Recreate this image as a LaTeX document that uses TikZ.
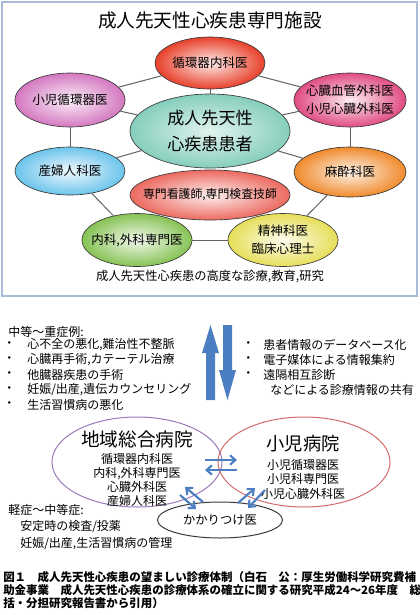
\documentclass[tikz,border=0pt]{standalone}
\usepackage{fontspec}
\setmainfont{Noto Sans CJK JP}
\usepackage{tikz}
\usetikzlibrary{arrows.meta,shapes.geometric}
\definecolor{ink}{HTML}{3A3A3A}
\definecolor{cardio}{HTML}{E8402A}
\definecolor{pedcardio}{HTML}{D478C0}
\definecolor{surgery}{HTML}{E04C82}
\definecolor{patient}{HTML}{86CEBC}
\definecolor{obgyn}{HTML}{6CC4EC}
\definecolor{anesth}{HTML}{F08A2C}
\definecolor{nurse}{HTML}{EC6A60}
\definecolor{internal}{HTML}{86C254}
\definecolor{psych}{HTML}{E6DE58}
\definecolor{frame}{HTML}{A9BBD9}
\definecolor{flowblue}{HTML}{4C7EC2}
\definecolor{genring}{HTML}{9A7AB8}
\definecolor{kidring}{HTML}{D46A6A}
\newlength\unitpx
\setlength\unitpx{0.75pt}
\tikzset{oval/.style={ellipse,draw=ink,line width=.5pt,shade,shading=radial,inner color=#1!10,outer color=#1,inner xsep=-30pt,inner ysep=0pt,align=center,font=\fontsize{9.4}{13.5}\selectfont},
  linkline/.style={draw=ink!80,line width=.75pt},
  ring/.style={ellipse,line width=.75pt,inner sep=0pt},
  bigarrow/.style={fill=flowblue},
  swaparrow/.style={draw=flowblue,line width=1.6pt,-{Straight Barb[length=4pt,width=7pt]}},
  listtext/.style={anchor=west,inner sep=0pt,font=\fontsize{9}{11}\selectfont},
  captext/.style={anchor=west,inner sep=0pt,font=\fontsize{8.6}{10}\selectfont\bfseries}}

\begin{document}
\begin{tikzpicture}[x=\unitpx,y=-\unitpx]
\useasboundingbox (0,0) rectangle (420,615);
\draw[frame,line width=1.2pt] (2,2) rectangle (417,296);
\node[font=\fontsize{14}{16}\selectfont] (facility) at (210,20) {成人先天性心疾患専門施設};
% specialists round the patient
\node[oval=cardio,minimum width=110\unitpx,minimum height=52\unitpx] (cardio) at (210,63) {循環器内科医};
\node[oval=pedcardio,minimum width=110\unitpx,minimum height=54\unitpx] (pedcardio) at (70,100) {小児循環器医};
\node[oval=surgery,minimum width=112\unitpx,minimum height=54\unitpx] (surgery) at (350,100) {心臓血管外科医\\小児心臓外科医};
\node[oval=patient,inner color=patient!25,minimum width=160\unitpx,minimum height=74\unitpx,font=\fontsize{12.8}{20}\selectfont] (patient) at (210,131) {成人先天性\\心疾患患者};
\node[oval=obgyn,minimum width=110\unitpx,minimum height=48\unitpx] (obgyn) at (70,171) {産婦人科医};
\node[oval=anesth,minimum width=112\unitpx,minimum height=50\unitpx] (anesth) at (350,172) {麻酔科医};
\node[oval=nurse,minimum width=160\unitpx,minimum height=50\unitpx,font=\fontsize{8.9}{11}\selectfont] (nurse) at (210,195) {専門看護師,専門検査技師};
\node[oval=internal,minimum width=110\unitpx,minimum height=53\unitpx] (internal) at (137,240) {内科,外科専門医};
\node[oval=psych,minimum width=110\unitpx,minimum height=53\unitpx] (psych) at (283,240) {精神科医\\臨床心理士};
\foreach \a/\b in {cardio/pedcardio,cardio/surgery,cardio/patient,pedcardio/patient,surgery/patient,pedcardio/obgyn,surgery/anesth,obgyn/patient,anesth/patient,obgyn/internal,anesth/psych,internal/psych}
  \draw[linkline] (\a) -- (\b);
\node[font=\fontsize{9.2}{11}\selectfont] (mission) at (210,277) {成人先天性心疾患の高度な診療,教育,研究};
% lists and exchange arrows
\node[listtext] (severe) at (8,332) {中等〜重症例:};
\foreach \txt [count=\i] in {{心不全の悪化,難治性不整脈},{心臓再手術,カテーテル治療},{他臓器疾患の手術},{妊娠/出産,遺伝カウンセリング},{生活習慣病の悪化}} {
  \node[listtext] at (3,330+15*\i) {・};
  \node[listtext] at (27,330+15*\i) {\txt};}
\foreach \txt [count=\i] in {患者情報のデータベース化,電子媒体による情報集約,遠隔相互診断} {
  \node[listtext] at (242,330+15*\i) {・};
  \node[listtext] at (263,330+15*\i) {\txt};}
\node[listtext] (shared) at (270,390) {などによる診療情報の共有};
\fill[bigarrow] (206,400) -- (206,353) -- (202,353) -- (210.5,325) -- (219,353) -- (215,353) -- (215,400) -- cycle;
\fill[bigarrow] (223,325) -- (232,325) -- (232,370) -- (236,370) -- (227.5,400) -- (219,370) -- (223,370) -- cycle;
% regional network
\node[ring,draw=genring,minimum width=170\unitpx,minimum height=90\unitpx] (general) at (137,462) {};
\node[ring,draw=kidring,minimum width=172\unitpx,minimum height=90\unitpx] (kids) at (304,462) {};
\node[ring,draw=ink,fill=white,minimum width=125\unitpx,minimum height=36\unitpx,font=\fontsize{9.2}{11}\selectfont] (gp) at (220,520) {かかりつけ医};
\node[font=\fontsize{14}{16}\selectfont] (generaltitle) at (137,439) {地域総合病院};
\node[align=center,inner sep=0pt,font=\fontsize{9}{10.3}\selectfont] (generalstaff) at (137,480) {循環器内科医\\内科,外科専門医\\心臓外科医\\産婦人科医};
\node[font=\fontsize{13.7}{16}\selectfont] (kidstitle) at (303,444) {小児病院};
\node[align=center,inner sep=0pt,font=\fontsize{9}{10.9}\selectfont] (kidsstaff) at (303,479) {小児循環器医\\小児科専門医\\小児心臓外科医};
\coordinate (gk1) at (205,460); \coordinate (kg1) at (237,460);
\coordinate (gk2) at (205,470); \coordinate (kg2) at (237,470);
\coordinate (gg1) at (185,487); \coordinate (pg1) at (203,502);
\coordinate (gg2) at (180,495); \coordinate (pg2) at (196,509);
\coordinate (kp1) at (255,488); \coordinate (pk1) at (238,503);
\coordinate (kp2) at (265,490); \coordinate (pk2) at (248,508);
\draw[swaparrow] (gk1) -- (kg1);
\draw[swaparrow] (kg2) -- (gk2);
\draw[swaparrow] (pg1) -- (gg1);
\draw[swaparrow] (gg2) -- (pg2);
\draw[swaparrow] (pk1) -- (kp1);
\draw[swaparrow] (kp2) -- (pk2);
\node[listtext] (mild) at (8,510) {軽症〜中等症:};
\node[listtext] (mild1) at (20,527) {安定時の検査/投薬};
\node[listtext] (mild2) at (20,544) {妊娠/出産,生活習慣病の管理};
% caption
\node[captext] (cap1) at (3,577) {図１　成人先天性心疾患の望ましい診療体制（白石　公：厚生労働科学研究費補};
\node[captext] (cap2) at (3,590) {助金事業　成人先天性心疾患の診療体系の確立に関する研究平成24〜26年度　総};
\node[captext] (cap3) at (3,603) {括・分担研究報告書から引用）};
\end{tikzpicture}
\end{document}
